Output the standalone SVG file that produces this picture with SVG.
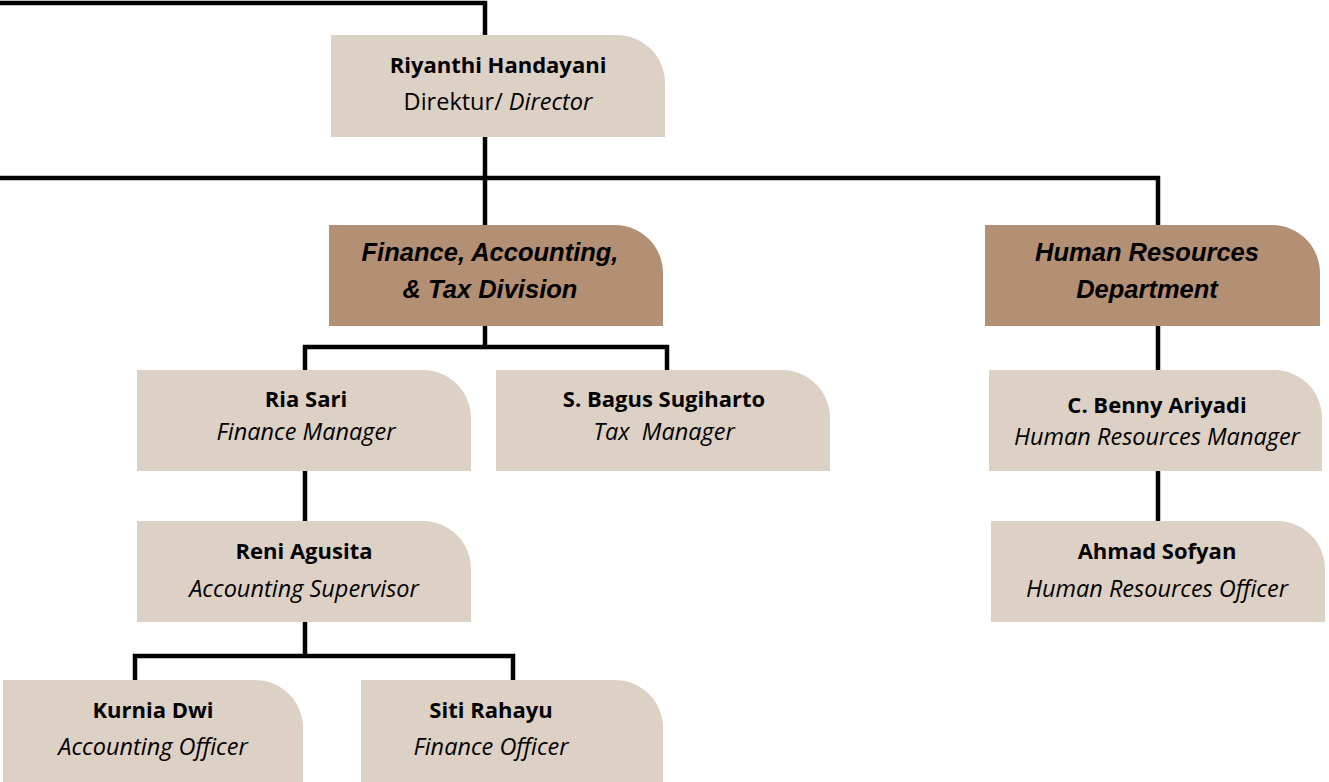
<svg xmlns="http://www.w3.org/2000/svg" width="1329" height="782" viewBox="0 0 1329 782">
<defs>
<style>
.lt{fill:#DDD0C4}
.dk{fill:#B38F74}
.c{fill:none;stroke:#000;stroke-width:4.5}
.n{font-family:"Open Sans","Liberation Sans",sans-serif;font-weight:bold;font-size:22px;fill:#000;text-anchor:middle}
.r{font-family:"Open Sans","Liberation Sans",sans-serif;font-style:italic;font-size:23.5px;fill:#000;text-anchor:middle}
.h{font-family:"Liberation Sans",Arial,sans-serif;font-style:italic;font-weight:bold;font-size:25.5px;fill:#000;text-anchor:middle}
</style>
</defs>
<rect width="1329" height="782" fill="#fff"/>
<g id="connectors">
<path class="c" d="M0 3H485V35"/>
<path class="c" d="M485 137V225"/>
<path class="c" d="M0 178H1158V225"/>
<path class="c" d="M485 326V347M305 370V347H667V370"/>
<path class="c" d="M1158 326V370M1158 471V521"/>
<path class="c" d="M305 471V521"/>
<path class="c" d="M305 622V656M135 680V656H513V680"/>
</g>
<g id="director">
<path class="lt" d="M331 35H617A48 48 0 0 1 665 83V137H331Z"/>
<text class="n" x="498" y="73">Riyanthi Handayani</text>
<text class="r" x="498" y="110" style="font-style:normal">Direktur/ <tspan style="font-style:italic">Director</tspan></text>
</g>
<g id="finance-division">
<path class="dk" d="M329 225H615A48 48 0 0 1 663 273V326H329Z"/>
<text class="h" x="490" y="261">Finance, Accounting,</text>
<text class="h" x="490" y="298">&amp; Tax Division</text>
</g>
<g id="hr-department">
<path class="dk" d="M985 225H1272A48 48 0 0 1 1320 273V326H985Z"/>
<text class="h" x="1147" y="261">Human Resources</text>
<text class="h" x="1147" y="298">Department</text>
</g>
<g id="ria-sari">
<path class="lt" d="M137 370H423A48 48 0 0 1 471 418V471H137Z"/>
<text class="n" x="306" y="407">Ria Sari</text>
<text class="r" x="306" y="440">Finance Manager</text>
</g>
<g id="bagus">
<path class="lt" d="M496 370H782A48 48 0 0 1 830 418V471H496Z"/>
<text class="n" x="664" y="407">S. Bagus Sugiharto</text>
<text class="r" x="664" y="440" xml:space="preserve">Tax  Manager</text>
</g>
<g id="benny">
<path class="lt" d="M989 370H1274A48 48 0 0 1 1322 418V471H989Z"/>
<text class="n" x="1157" y="413">C. Benny Ariyadi</text>
<text class="r" x="1157" y="445">Human Resources Manager</text>
</g>
<g id="reni">
<path class="lt" d="M137 521H423A48 48 0 0 1 471 569V622H137Z"/>
<text class="n" x="304" y="559">Reni Agusita</text>
<text class="r" x="304" y="597">Accounting Supervisor</text>
</g>
<g id="ahmad">
<path class="lt" d="M991 521H1277A48 48 0 0 1 1325 569V622H991Z"/>
<text class="n" x="1157" y="559">Ahmad Sofyan</text>
<text class="r" x="1157" y="597">Human Resources Officer</text>
</g>
<g id="kurnia">
<path class="lt" d="M3 680H255A48 48 0 0 1 303 728V782H3Z"/>
<text class="n" x="153" y="718">Kurnia Dwi</text>
<text class="r" x="153" y="755">Accounting Officer</text>
</g>
<g id="siti">
<path class="lt" d="M361 680H615A48 48 0 0 1 663 728V782H361Z"/>
<text class="n" x="491" y="718">Siti Rahayu</text>
<text class="r" x="491" y="755">Finance Officer</text>
</g>
</svg>
